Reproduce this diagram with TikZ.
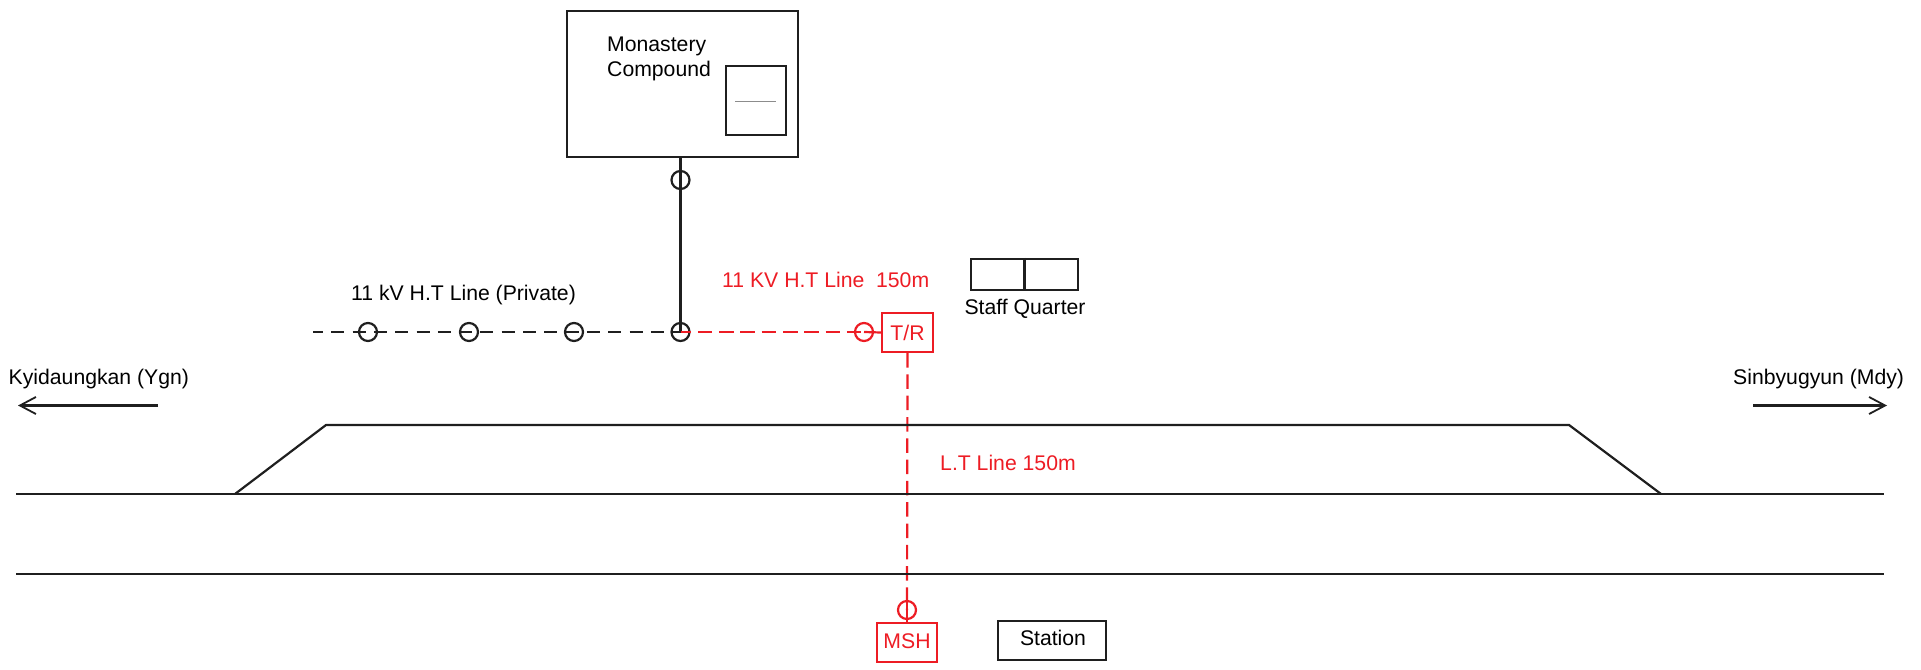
\documentclass[tikz,border=0pt]{standalone}
\usepackage{fontspec}
\setmainfont{Liberation Sans}
\usetikzlibrary{arrows.meta}
\definecolor{redl}{RGB}{237,28,36}
\tikzset{
 x=1pt,y=-1pt,
 lbl/.style={inner sep=0pt,font=\fontsize{21.2}{24.5}\selectfont,text=black},
 rlbl/.style={lbl,text=redl},
 blk/.style={draw=black!88,line width=2.2pt},
 red/.style={draw=redl,line width=2.2pt},
 hdash/.style={dash pattern=on 13pt off 8.3pt},
 pole/.style={circle,draw,line width=2.2pt,minimum size=18pt,inner sep=0pt},
 arr/.style={blk,-{Straight Barb[length=16pt,width=17pt,line width=1.8pt]}},
}
\begin{document}
\begin{tikzpicture}
\useasboundingbox (0,0) rectangle (1921,669);
% Monastery
\node[blk,minimum width=231pt,minimum height=146pt,inner sep=0pt] (comp) at (682.5,84) {};
\node[blk,minimum width=60pt,minimum height=69pt,inner sep=0pt] (inner) at (756,100.5) {};
\coordinate (tiny1) at (735,101);
\coordinate (tiny2) at (776,101);
\draw[draw=black!45,line width=.7pt] (tiny1) -- (tiny2);
\node[lbl,align=left,anchor=north west] (mon) at (607,37) {Monastery\\Compound};
% poles
\node[pole,black!88] (p0) at (680.5,180) {};
\node[pole,black!88] (p1) at (368,332) {};
\node[pole,black!88] (p2) at (469,332) {};
\node[pole,black!88] (p3) at (574,332) {};
\node[pole,black!88] (p4) at (680.5,332) {};
\coordinate (hstart) at (313,332);
\draw[blk] (comp.south -| p0) -- (p4.center);
\draw[blk,hdash,dash phase=3pt] (hstart) -- (p4.center);
% red
\node[pole,redl] (p5) at (864,332) {};
\node[red,minimum width=51pt,minimum height=39pt,inner sep=0pt,text=redl,font=\fontsize{21.2}{24}\selectfont] (tr) at (907.5,332.5) {T/R};
\node[red,minimum width=60pt,minimum height=39pt,inner sep=0pt,text=redl,font=\fontsize{21.2}{24}\selectfont] (msh) at (907,642.5) {\raisebox{2pt}{MSH}};
\node[pole,redl] (p6) at (907,610) {};
\draw[red,dash pattern=on 14.5pt off 6.8pt,dash phase=4pt] (p4.center) -- (p5.center);
\draw[red] (p5.center) -- (tr.west);
\draw[red,dash pattern=on 14.5pt off 6.8pt] (tr.south) -- (p6.center);
\draw[red] (p6.north) -- (msh.north -| p6);
% labels
\node[lbl,anchor=west] (l1) at (351,295.5) {11 kV H.T Line (Private)};
\node[rlbl,anchor=west] (l2) at (722,279.5) {11 KV H.T Line \ 150m};
\node[rlbl,anchor=west] (l3) at (940,463) {L.T Line 150m};
% staff
\node[blk,minimum width=107pt,minimum height=31pt,inner sep=0pt] (staff) at (1024.5,274.5) {};
\draw[blk] (staff.north) -- (staff.south);
\node[lbl] (stafft) at (1025,309) {Staff Quarter};
\node[blk,minimum width=108pt,minimum height=39pt,inner sep=0pt] (stn) at (1052,640.5) {};
\node[lbl] (stnt) at (1053,638) {Station};
% tracks
\coordinate (tl1) at (16,494);
\coordinate (tr1) at (1884,494);
\coordinate (tl2) at (16,574);
\coordinate (tr2) at (1884,574);
\draw[blk] (tl1) -- (tr1);
\draw[blk] (tl2) -- (tr2);
\coordinate (e1) at (235,494);
\coordinate (e2) at (326,425);
\coordinate (e3) at (1569,425);
\coordinate (e4) at (1661,494);
\draw[blk] (e1) -- (e2) -- (e3) -- (e4);
% directions
\coordinate (al0) at (158,405.5);
\coordinate (al1) at (18,405.5);
\coordinate (ar0) at (1753,405.5);
\coordinate (ar1) at (1887,405.5);
\draw[arr] (al0) -- (al1);
\draw[arr] (ar0) -- (ar1);
\node[lbl,anchor=west] (kyi) at (8.5,379.5) {Kyidaungkan (Ygn)};
\node[lbl,anchor=west] (sin) at (1733,379.5) {Sinbyugyun (Mdy)};
\end{tikzpicture}
\end{document}
